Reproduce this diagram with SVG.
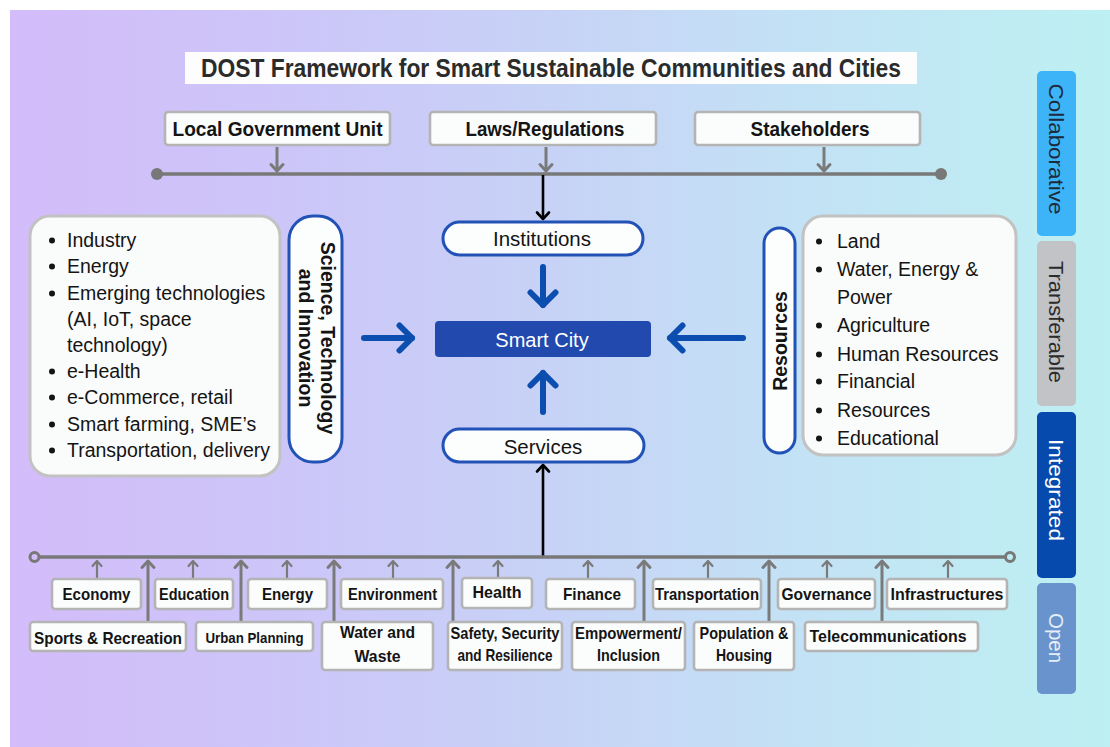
<svg xmlns="http://www.w3.org/2000/svg" width="1110" height="747" viewBox="0 0 1110 747">
  <defs>
    <linearGradient id="bg" x1="0" y1="0" x2="1" y2="0">
      <stop offset="0" stop-color="#d3bcfa"/>
      <stop offset="0.3" stop-color="#cbc8f8"/>
      <stop offset="0.5" stop-color="#c7d3f6"/>
      <stop offset="0.72" stop-color="#c3e2f5"/>
      <stop offset="1" stop-color="#bdf0f2"/>
    </linearGradient>
    <!-- open chevron heads; tip sits at the path end -->
    <marker id="headGraySm" markerUnits="userSpaceOnUse" viewBox="-8 -7 10 14" markerWidth="10" markerHeight="14" refX="0" refY="0" orient="auto">
      <path d="M-5,-4.5 L0,0 L-5,4.5" fill="none" stroke="#7a7a7a" stroke-width="2.2" stroke-linecap="round" stroke-linejoin="round"/>
    </marker>
    <marker id="headGray" markerUnits="userSpaceOnUse" viewBox="-10 -9 13 18" markerWidth="13" markerHeight="18" refX="0" refY="0" orient="auto">
      <path d="M-6.5,-6 L0,0 L-6.5,6" fill="none" stroke="#7a7a7a" stroke-width="3" stroke-linecap="round" stroke-linejoin="round"/>
    </marker>
    <marker id="headBlack" markerUnits="userSpaceOnUse" viewBox="-10 -9 13 18" markerWidth="13" markerHeight="18" refX="0" refY="0" orient="auto">
      <path d="M-6.5,-6 L0,0 L-6.5,6" fill="none" stroke="#000" stroke-width="2.6" stroke-linecap="round" stroke-linejoin="round"/>
    </marker>
    <marker id="headBlue" markerUnits="userSpaceOnUse" viewBox="-17 -17 21 34" markerWidth="21" markerHeight="34" refX="0" refY="0" orient="auto">
      <path d="M-12.5,-12.5 L0,0 L-12.5,12.5" fill="none" stroke="#0c4db0" stroke-width="6" stroke-linecap="round" stroke-linejoin="round"/>
    </marker>
  </defs>
  <style>
    text { font-family: "Liberation Sans", Arial, sans-serif; fill: #141414; }
    .title { font-size: 25px; font-weight: bold; fill: #2b2b2b; text-anchor: middle; }
    .box { fill: #fbfcfc; stroke: #b4b4b4; stroke-width: 2.6; }
    .top { font-size: 20.5px; font-weight: bold; text-anchor: middle; }
    .panel { fill: #fafbfb; stroke: #c2c2c2; stroke-width: 3; }
    .item { font-size: 19.5px; }
    .bullet { fill: #141414; }
    .pill { fill: #fcfdfd; stroke: #2252b6; stroke-width: 3; }
    .pilltxt { font-size: 20.5px; text-anchor: middle; }
    .vbold { font-size: 19.5px; font-weight: bold; text-anchor: middle; }
    .city { fill: #2149ae; }
    .citytxt { font-size: 20px; fill: #ffffff; text-anchor: middle; }
    .lbl { font-size: 16.5px; font-weight: bold; text-anchor: middle; }
    .sm { font-size: 15px; }
    .tabtxt { font-size: 21px; text-anchor: middle; }
    .bus { fill: none; stroke: #787878; stroke-width: 3.5; }
    .feed { fill: none; stroke: #7a7a7a; stroke-width: 2.2; marker-end: url(#headGraySm); }
    .feedL { fill: none; stroke: #7a7a7a; stroke-width: 3; marker-end: url(#headGray); }
    .blk { fill: none; stroke: #000; stroke-width: 2.6; marker-end: url(#headBlack); }
    .blu { fill: none; stroke: #0c4db0; stroke-width: 6; stroke-linecap: round; marker-end: url(#headBlue); }
  </style>

  <!-- backdrop -->
  <rect x="10" y="10" width="1100" height="737" fill="url(#bg)"/>

  <!-- heading -->
  <g id="title">
    <rect x="185" y="52" width="732" height="32" fill="#fdfdfd"/>
    <text class="title" x="551" y="76.5" textLength="700" lengthAdjust="spacingAndGlyphs">DOST Framework for Smart Sustainable Communities and Cities</text>
  </g>

  <!-- governance inputs -->
  <g id="lgu">
    <rect class="box" x="165" y="112" width="225" height="33" rx="3"/>
    <text class="top" x="277.5" y="136" textLength="210" lengthAdjust="spacingAndGlyphs">Local Government Unit</text>
  </g>
  <g id="laws">
    <rect class="box" x="430" y="112" width="226" height="33" rx="3"/>
    <text class="top" x="545" y="136" textLength="159" lengthAdjust="spacingAndGlyphs">Laws/Regulations</text>
  </g>
  <g id="stakeholders">
    <rect class="box" x="695" y="112" width="225" height="33" rx="3"/>
    <text class="top" x="810" y="136" textLength="119" lengthAdjust="spacingAndGlyphs">Stakeholders</text>
  </g>

  <!-- connectors -->
  <g id="connectors">
    <path class="bus" d="M157,174 H941"/>
    <circle cx="157" cy="174" r="6" fill="#787878"/>
    <circle cx="941" cy="174" r="6" fill="#787878"/>
    <path class="feedL" d="M277,147 V171"/>
    <path class="feedL" d="M546,147 V171"/>
    <path class="feedL" d="M824,147 V171"/>
    <path class="blk" d="M543,175 V219"/>

    <path class="blu" d="M543,267 V305"/>
    <path class="blu" d="M364,338 H412"/>
    <path class="blu" d="M743,338 H670"/>
    <path class="blu" d="M543,412 V373"/>

    <path class="blk" d="M543,556 V465"/>

    <path class="bus" d="M39,557 H1005"/>
    <circle cx="34.5" cy="557" r="4.5" fill="none" stroke="#787878" stroke-width="3"/>
    <circle cx="1010" cy="557" r="4.5" fill="none" stroke="#787878" stroke-width="3"/>

    <path class="feed" d="M97,578 V561"/>
    <path class="feed" d="M193,578 V561"/>
    <path class="feed" d="M287,578 V561"/>
    <path class="feed" d="M393,578 V561"/>
    <path class="feed" d="M498,577 V561"/>
    <path class="feed" d="M588,578 V561"/>
    <path class="feed" d="M708,578 V561"/>
    <path class="feed" d="M827,578 V561"/>
    <path class="feed" d="M948,578 V561"/>

    <path class="feedL" d="M148,621 V561"/>
    <path class="feedL" d="M241,621 V561"/>
    <path class="feedL" d="M334,621 V561"/>
    <path class="feedL" d="M453,621 V561"/>
    <path class="feedL" d="M644,621 V561"/>
    <path class="feedL" d="M769,621 V561"/>
    <path class="feedL" d="M882,621 V561"/>
  </g>

  <!-- science, technology and innovation -->
  <g id="sti-list">
    <rect class="panel" x="30" y="216" width="250" height="260" rx="20"/>
    <circle class="bullet" cx="52" cy="240.5" r="3"/>
    <text class="item" x="67" y="247">Industry</text>
    <circle class="bullet" cx="52" cy="266.5" r="3"/>
    <text class="item" x="67" y="273">Energy</text>
    <circle class="bullet" cx="52" cy="293.5" r="3"/>
    <text class="item" x="67" y="300">Emerging technologies</text>
    <text class="item" x="67" y="326">(AI, IoT, space</text>
    <text class="item" x="67" y="352">technology)</text>
    <circle class="bullet" cx="52" cy="371.5" r="3"/>
    <text class="item" x="67" y="378">e-Health</text>
    <circle class="bullet" cx="52" cy="397.5" r="3"/>
    <text class="item" x="67" y="404">e-Commerce, retail</text>
    <circle class="bullet" cx="52" cy="424.5" r="3"/>
    <text class="item" x="67" y="431">Smart farming, SME’s</text>
    <circle class="bullet" cx="52" cy="450.5" r="3"/>
    <text class="item" x="67" y="457">Transportation, delivery</text>
  </g>
  <g id="sti">
    <rect class="pill" x="289" y="216" width="53" height="246" rx="24"/>
    <g transform="translate(315,338) rotate(90)">
      <text class="vbold" x="0" y="-6">Science, Technology</text>
      <text class="vbold" x="0" y="16.5">and Innovation</text>
    </g>
  </g>

  <!-- centre -->
  <g id="institutions">
    <rect class="pill" x="443" y="222" width="200" height="33" rx="16.5"/>
    <text class="pilltxt" x="542" y="246">Institutions</text>
  </g>
  <g id="smart-city">
    <rect class="city" x="435" y="321" width="216" height="36" rx="4"/>
    <text class="citytxt" x="542" y="346.5">Smart City</text>
  </g>
  <g id="services">
    <rect class="pill" x="443" y="429" width="201" height="33" rx="16.5"/>
    <text class="pilltxt" x="543" y="453.5">Services</text>
  </g>

  <!-- resources -->
  <g id="resources">
    <rect class="pill" x="764" y="228" width="31" height="225" rx="15.5"/>
    <text class="vbold" transform="translate(779.5,341) rotate(-90)" x="0" y="7">Resources</text>
  </g>
  <g id="resources-list">
    <rect class="panel" x="803" y="216" width="213" height="239" rx="20"/>
    <circle class="bullet" cx="819" cy="241.5" r="3"/>
    <text class="item" x="837" y="248">Land</text>
    <circle class="bullet" cx="819" cy="269.5" r="3"/>
    <text class="item" x="837" y="276">Water, Energy &amp;</text>
    <text class="item" x="837" y="303.5">Power</text>
    <circle class="bullet" cx="819" cy="325.5" r="3"/>
    <text class="item" x="837" y="332">Agriculture</text>
    <circle class="bullet" cx="819" cy="354.5" r="3"/>
    <text class="item" x="837" y="361">Human Resources</text>
    <circle class="bullet" cx="819" cy="381.5" r="3"/>
    <text class="item" x="837" y="388">Financial</text>
    <circle class="bullet" cx="819" cy="410.5" r="3"/>
    <text class="item" x="837" y="417">Resources</text>
    <circle class="bullet" cx="819" cy="438.5" r="3"/>
    <text class="item" x="837" y="445">Educational</text>
  </g>

  <!-- service sectors, upper row -->
  <g id="economy"><rect class="box" x="52" y="579" width="89" height="30" rx="3"/><text class="lbl" x="96.5" y="600" textLength="68" lengthAdjust="spacingAndGlyphs">Economy</text></g>
  <g id="education"><rect class="box" x="155" y="579" width="78" height="30" rx="3"/><text class="lbl" x="194" y="600" textLength="70" lengthAdjust="spacingAndGlyphs">Education</text></g>
  <g id="energy"><rect class="box" x="248" y="579" width="79" height="30" rx="3"/><text class="lbl" x="287.5" y="600" textLength="51" lengthAdjust="spacingAndGlyphs">Energy</text></g>
  <g id="environment"><rect class="box" x="341" y="579" width="102" height="30" rx="3"/><text class="lbl" x="392.5" y="599.5" textLength="89" lengthAdjust="spacingAndGlyphs">Environment</text></g>
  <g id="health"><rect class="box" x="462" y="578" width="70" height="30" rx="3"/><text class="lbl" x="497" y="598" textLength="49" lengthAdjust="spacingAndGlyphs">Health</text></g>
  <g id="finance"><rect class="box" x="546" y="579" width="89" height="30" rx="3"/><text class="lbl" x="592" y="600" textLength="58" lengthAdjust="spacingAndGlyphs">Finance</text></g>
  <g id="transportation"><rect class="box" x="653" y="579" width="108" height="30" rx="3"/><text class="lbl" x="707" y="599.5" textLength="104" lengthAdjust="spacingAndGlyphs">Transportation</text></g>
  <g id="governance"><rect class="box" x="778" y="579" width="97" height="30" rx="3"/><text class="lbl" x="826.5" y="600" textLength="90" lengthAdjust="spacingAndGlyphs">Governance</text></g>
  <g id="infrastructures"><rect class="box" x="887" y="579" width="120" height="30" rx="3"/><text class="lbl" x="947" y="600" textLength="113" lengthAdjust="spacingAndGlyphs">Infrastructures</text></g>

  <!-- service sectors, lower row -->
  <g id="sports"><rect class="box" x="30" y="622" width="156" height="29" rx="3"/><text class="lbl" x="108" y="643.5" textLength="148" lengthAdjust="spacingAndGlyphs">Sports &amp; Recreation</text></g>
  <g id="urban-planning"><rect class="box" x="196" y="622" width="117" height="29" rx="3"/><text class="lbl sm" x="254.5" y="642.5" textLength="98" lengthAdjust="spacingAndGlyphs">Urban Planning</text></g>
  <g id="water-waste"><rect class="box" x="322" y="622" width="111" height="48" rx="3"/><text class="lbl" x="377.5" y="638" textLength="75" lengthAdjust="spacingAndGlyphs">Water and</text><text class="lbl" x="377.5" y="661.5" textLength="46" lengthAdjust="spacingAndGlyphs">Waste</text></g>
  <g id="safety"><rect class="box" x="448" y="622" width="114" height="48" rx="3"/><text class="lbl" x="505" y="639" textLength="109" lengthAdjust="spacingAndGlyphs">Safety, Security</text><text class="lbl" x="505" y="661" textLength="95" lengthAdjust="spacingAndGlyphs">and Resilience</text></g>
  <g id="empowerment"><rect class="box" x="572" y="622" width="113" height="48" rx="3"/><text class="lbl" x="628.5" y="639" textLength="107" lengthAdjust="spacingAndGlyphs">Empowerment/</text><text class="lbl" x="628.5" y="661" textLength="63" lengthAdjust="spacingAndGlyphs">Inclusion</text></g>
  <g id="population"><rect class="box" x="694" y="622" width="100" height="48" rx="3"/><text class="lbl" x="744" y="639" textLength="89" lengthAdjust="spacingAndGlyphs">Population &amp;</text><text class="lbl" x="744" y="661" textLength="56" lengthAdjust="spacingAndGlyphs">Housing</text></g>
  <g id="telecommunications"><rect class="box" x="805" y="622" width="173" height="29" rx="3"/><text class="lbl" x="888" y="642" textLength="157" lengthAdjust="spacingAndGlyphs">Telecommunications</text></g>

  <!-- attribute tabs -->
  <g id="tab-collaborative">
    <rect x="1037" y="71" width="39" height="165" rx="5" fill="#3db4f8"/>
    <text class="tabtxt" transform="translate(1056.5,149) rotate(90)" x="0" y="7.6" style="fill:#1c2a3a" textLength="131" lengthAdjust="spacingAndGlyphs">Collaborative</text>
  </g>
  <g id="tab-transferable">
    <rect x="1037" y="241" width="39" height="165" rx="5" fill="#c1c3c7"/>
    <text class="tabtxt" transform="translate(1056.5,322) rotate(90)" x="0" y="7.6" style="fill:#2a2a2a" textLength="122" lengthAdjust="spacingAndGlyphs">Transferable</text>
  </g>
  <g id="tab-integrated">
    <rect x="1037" y="412" width="39" height="166" rx="5" fill="#064aad"/>
    <text class="tabtxt" transform="translate(1056.5,490) rotate(90)" x="0" y="7.6" style="fill:#ffffff" textLength="102" lengthAdjust="spacingAndGlyphs">Integrated</text>
  </g>
  <g id="tab-open">
    <rect x="1037" y="583" width="39" height="111" rx="5" fill="#6993cc"/>
    <text class="tabtxt" transform="translate(1056.5,638) rotate(90)" x="0" y="7.6" style="fill:#e6edf8" textLength="50" lengthAdjust="spacingAndGlyphs">Open</text>
  </g>
</svg>
